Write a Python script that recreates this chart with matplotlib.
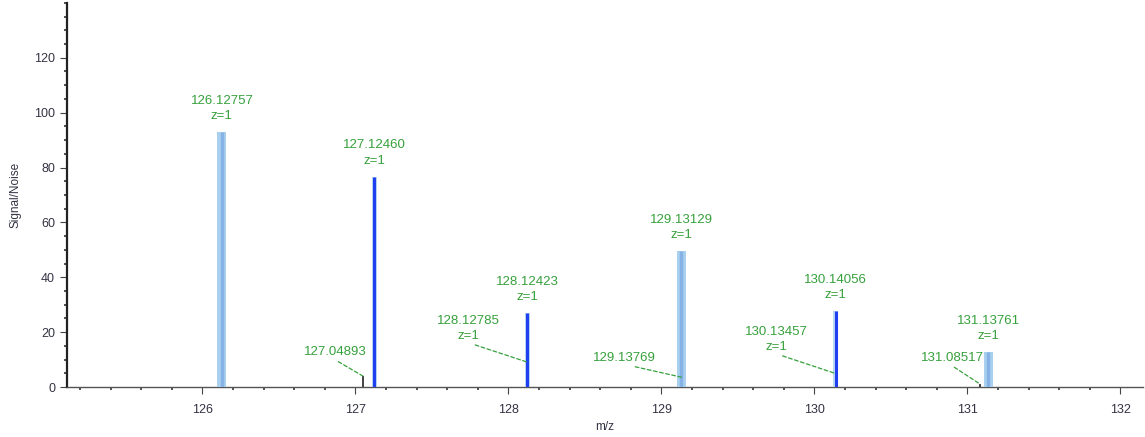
import matplotlib
matplotlib.use("Agg")
from matplotlib import pyplot as plt
from matplotlib.ticker import MultipleLocator

# main labelled peaks
main_mz = [126.12757, 127.12460, 128.12423, 129.13129, 130.14056, 131.13761]
main_sn = [93.0, 76.7, 26.8, 49.4, 27.6, 12.8]
main_style = ["light", "dark", "dark", "light", "dark", "light"]

# small neighbouring peaks
minor_mz = [127.04893, 128.12785, 129.13769, 130.13457, 131.08517]
minor_sn = [4.0, 9.0, 3.5, 5.0, 1.0]
minor_z = ["", "z=1", "", "z=1", ""]
# where the labels of the small peaks sit (m/z, S/N)
minor_text_at = [(126.87, 10.5), (127.74, 16.5), (128.76, 8.5), (129.75, 12.5), (130.90, 8.5)]

xticks = [126, 127, 128, 129, 130, 131, 132]
yticks = [0, 20, 40, 60, 80, 100, 120]

plt.rcParams["font.family"] = ["Liberation Sans", "DejaVu Sans"]
green = "#36a03c"

fig = plt.figure(figsize=(11.45, 4.37), dpi=100)
ax = fig.add_axes([0.0585, 0.1144, 0.94, 0.879])

# small peaks first so main bars sit on top
for mz, sn in zip(minor_mz, minor_sn):
    ax.vlines(mz, 0, sn, color="#222222", lw=1.2, zorder=2)

for mz, sn, st in zip(main_mz, main_sn, main_style):
    if st == "light":
        ax.bar(mz, sn, width=0.058, color="#a9d1ef", edgecolor="none", zorder=3)
        ax.vlines(mz, 0, sn, color="#86b2e6", lw=2.5, zorder=4)
    else:
        ax.bar(mz, sn, width=0.034, color="#b7d9f2", edgecolor="none", zorder=3)
        ax.vlines(mz, 0, sn, color="#1f3ff0", lw=2.2, zorder=4)
    ax.annotate("%.5f\nz=1" % mz, (mz, sn), xytext=(0, 10), textcoords="offset pixels",
                ha="center", va="bottom", fontsize=9.5, color=green, linespacing=1.35)

for mz, sn, z, (tx, ty) in zip(minor_mz, minor_sn, minor_z, minor_text_at):
    label = "%.5f" % mz + ("\n" + z if z else "")
    ax.annotate(label, (mz, sn), xytext=(tx, ty), textcoords="data",
                ha="center", va="bottom", fontsize=9.5, color=green, linespacing=1.35,
                arrowprops=dict(arrowstyle="-", color=green, lw=0.9, linestyle=(0, (3, 2)),
                                shrinkA=1, shrinkB=0, relpos=(0.45, 0)),
                zorder=5)

ax.set_xlim(125.115, 132.15)
ax.set_ylim(0, 140)
ax.set_xticks(xticks)
ax.set_yticks(yticks)
ax.xaxis.set_minor_locator(MultipleLocator(0.2))
ax.yaxis.set_minor_locator(MultipleLocator(5))

for s in ["top", "right"]:
    ax.spines[s].set_visible(False)
ax.spines["left"].set_linewidth(1.6)
ax.spines["bottom"].set_linewidth(1.0)
ax.spines["left"].set_color("#222222")
ax.spines["bottom"].set_color("#555555")

ax.tick_params(axis="both", which="major", labelsize=9, labelcolor="#333344", length=5, color="#444444")
ax.tick_params(axis="both", which="minor", length=2, width=1.2, color="#333333")
ax.tick_params(axis="x", which="major", pad=7)

ax.set_xlabel("m/z", fontsize=8.5, color="#333344", labelpad=4)
ax.set_ylabel("Signal/Noise", fontsize=8.5, color="#333344", labelpad=9)

fig.savefig("out.png", dpi=100)
